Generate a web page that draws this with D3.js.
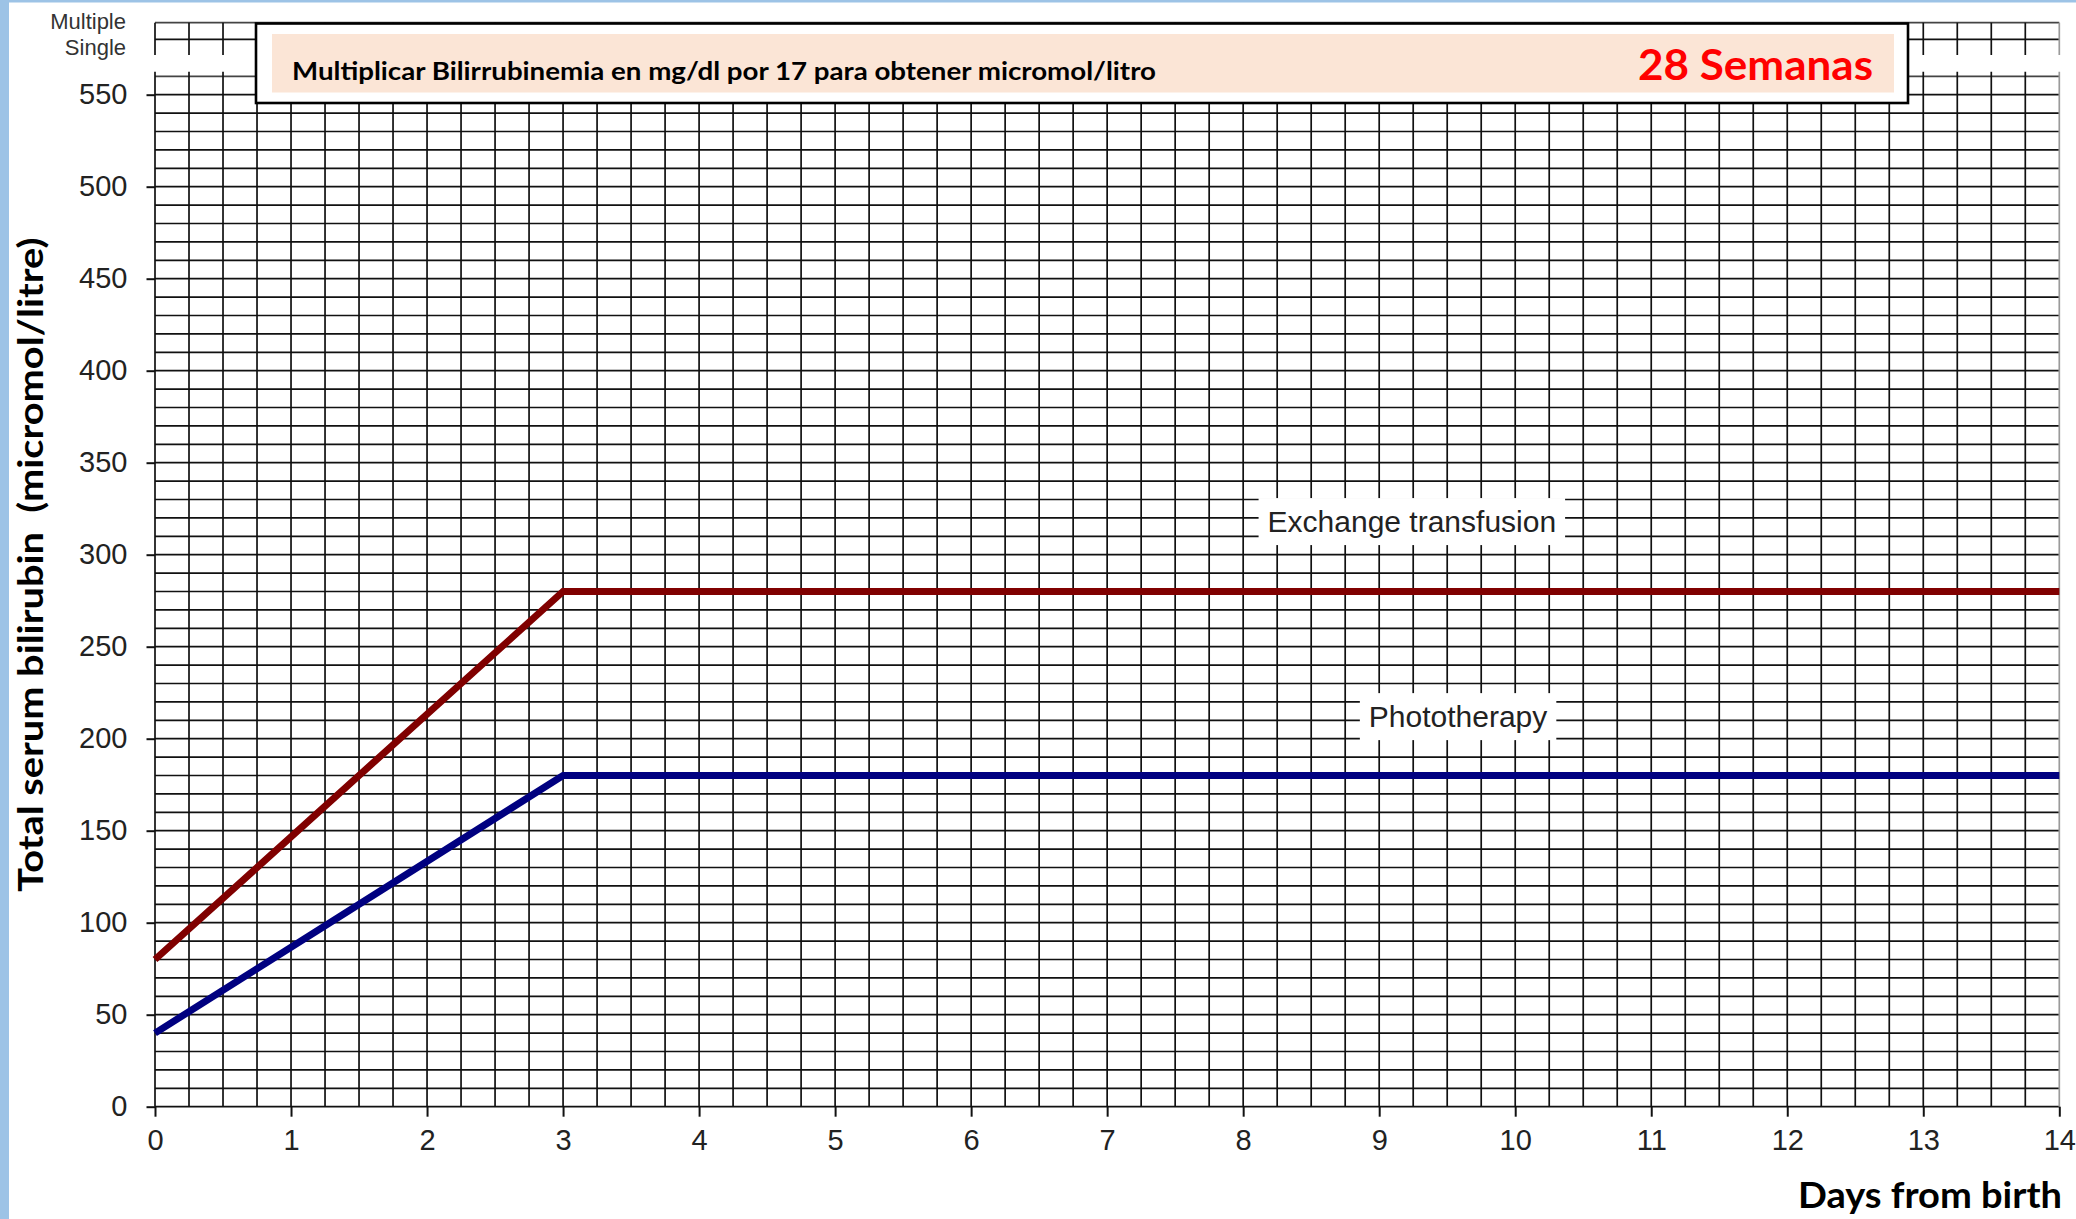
<!DOCTYPE html>
<html>
<head>
<meta charset="utf-8">
<script src="https://cdn.jsdelivr.net/npm/d3@7"></script>
<style>
  html, body { margin: 0; padding: 0; background: #fff; }
  svg { display: block; }
</style>
</head>
<body>
<svg id="chart" width="2076" height="1219"></svg>
<script>
// ---------- data ----------
const xTicks = [0,1,2,3,4,5,6,7,8,9,10,11,12,13,14];
const yTicks = [0,50,100,150,200,250,300,350,400,450,500,550];
const exchangeDays   = [0, 3, 14];
const exchangeValues = [80, 280, 280];
const photoDays      = [0, 3, 14];
const photoValues    = [40, 180, 180];
const lineLabels     = ["Exchange transfusion", "Phototherapy"];
const lineLabelDays  = [9.24, 9.58];
const lineLabelVals  = [318, 212];
const stripLabels    = ["Multiple", "Single"];
const bannerText     = "Multiplicar Bilirrubinemia en mg/dl por 17 para obtener micromol/litro";
const weeksText      = "28 Semanas";
const xTitle         = "Days from birth";
const yTitle         = "Total serum bilirubin  (micromol/litre)";

// ---------- setup ----------
const svg = d3.select("#chart");
const W = 2076, H = 1219;
svg.append("rect").attr("width", W).attr("height", H).attr("fill", "#fff");
// light blue frame (left and top)
svg.append("rect").attr("x", 0).attr("y", 0).attr("width", 9).attr("height", H).attr("fill", "#9DC3E6");
svg.append("rect").attr("x", 0).attr("y", 0).attr("width", W).attr("height", 2.5).attr("fill", "#9DC3E6");

const x = d3.scaleLinear().domain([0, 14]).range([155, 2059.3]);
const y = d3.scaleLinear().domain([0, 560]).range([1106.7, 76.3]);

const gridColor = "#111";
const gw = 1.7;

// ---------- main grid ----------
const grid = svg.append("g");
const hVals = d3.range(0, 561, 10);
grid.selectAll("line.h").data(hVals).join("line")
  .attr("x1", x(0)).attr("x2", x(14))
  .attr("y1", d => y(d)).attr("y2", d => y(d))
  .attr("stroke", d => d === 560 ? "#444" : gridColor).attr("stroke-width", gw);
const vVals = d3.range(0, 14.001, 0.25);
grid.selectAll("line.v").data(vVals).join("line")
  .attr("x1", d => x(d)).attr("x2", d => x(d))
  .attr("y1", y(560) - 4.5).attr("y2", y(0))
  .attr("stroke", d => d === 14 ? "#9a9a9a" : gridColor).attr("stroke-width", gw);

// ---------- top strip (Multiple / Single) ----------
const stripTop = 22.7, stripRow = 16.6, stripBottom = 55;
const strip = svg.append("g");
strip.selectAll("line.sh").data([0, 1]).join("line")
  .attr("x1", x(0)).attr("x2", x(14))
  .attr("y1", d => stripTop + d * stripRow).attr("y2", d => stripTop + d * stripRow)
  .attr("stroke", d => d === 0 ? "#444" : gridColor).attr("stroke-width", gw);
strip.selectAll("line.sv").data(vVals).join("line")
  .attr("x1", d => x(d)).attr("x2", d => x(d))
  .attr("y1", stripTop).attr("y2", stripBottom)
  .attr("stroke", d => d === 14 ? "#9a9a9a" : gridColor).attr("stroke-width", gw);
strip.selectAll("text").data(stripLabels).join("text")
  .attr("x", 126).attr("y", (d, i) => i === 0 ? 28.5 : 55)
  .attr("text-anchor", "end")
  .attr("font-family", "'Liberation Sans', Arial, sans-serif")
  .attr("font-size", 22).attr("fill", "#333")
  .text(d => d);

// ---------- axes ----------
const axisFont = "'Liberation Sans', Arial, sans-serif";
const yAxis = svg.append("g").attr("transform", `translate(${x(0)},0)`)
  .call(d3.axisLeft(y).tickValues(yTicks).tickSize(8.5).tickPadding(19));
const xAxis = svg.append("g").attr("transform", `translate(0,${y(0)})`)
  .call(d3.axisBottom(x).tickValues(xTicks).tickSize(10).tickPadding(13));
[yAxis, xAxis].forEach(g => {
  g.select(".domain").remove();
  g.selectAll(".tick line").attr("stroke", "#111").attr("stroke-width", 2);
  g.selectAll(".tick text").attr("font-family", axisFont).attr("font-size", 29).attr("fill", "#222");
});

// ---------- label boxes (white, break the grid) ----------
const labelG = svg.append("g");
const labels = lineLabels.map((t, i) => ({ t, d: lineLabelDays[i], v: lineLabelVals[i] }));
const texts = labelG.selectAll("text").data(labels).join("text")
  .attr("x", d => x(d.d)).attr("y", d => y(d.v))
  .attr("dy", "0.36em")
  .attr("text-anchor", "middle")
  .attr("font-family", axisFont).attr("font-size", 30).attr("fill", "#222")
  .text(d => d.t);
texts.each(function(d) {
  const bb = this.getBBox();
  labelG.insert("rect", "text")
    .attr("x", bb.x - 9).attr("y", y(d.v) - 23.5)
    .attr("width", bb.width + 18).attr("height", 47)
    .attr("fill", "#fff");
});

// ---------- threshold lines ----------
const line = d3.line().x(d => x(d[0])).y(d => y(d[1]));
const series = [
  { pts: exchangeDays.map((d, i) => [d, exchangeValues[i]]), color: "#800000" },
  { pts: photoDays.map((d, i) => [d, photoValues[i]]), color: "#000080" }
];
svg.append("g").selectAll("path").data(series).join("path")
  .attr("d", d => line(d.pts))
  .attr("fill", "none").attr("stroke", d => d.color)
  .attr("stroke-width", 7).attr("stroke-linejoin", "miter");

// ---------- banner ----------
svg.append("rect").attr("x", 256).attr("y", 23.5).attr("width", 1652).attr("height", 79.5)
  .attr("fill", "#fff").attr("stroke", "#000").attr("stroke-width", 2.6);
svg.append("rect").attr("x", 272).attr("y", 34).attr("width", 1622).attr("height", 58.5)
  .attr("fill", "#FBE5D6");
svg.append("text").attr("x", 292).attr("y", 80)
  .attr("font-family", "Lato, 'Open Sans', sans-serif").attr("font-weight", "bold")
  .attr("font-size", 25).attr("fill", "#000")
  .attr("textLength", 864).attr("lengthAdjust", "spacingAndGlyphs")
  .text(bannerText);
svg.append("text").attr("x", 1638).attr("y", 80)
  .attr("font-family", "Lato, 'Open Sans', sans-serif").attr("font-weight", "bold")
  .attr("font-size", 42).attr("fill", "#FF0000")
  .attr("textLength", 235).attr("lengthAdjust", "spacingAndGlyphs")
  .text(weeksText);

// ---------- axis titles ----------
svg.append("text").attr("x", 1798).attr("y", 1208)
  .attr("font-family", "Lato, 'Open Sans', sans-serif").attr("font-weight", "bold")
  .attr("font-size", 36).attr("fill", "#000")
  .attr("textLength", 264).attr("lengthAdjust", "spacingAndGlyphs")
  .text(xTitle);
svg.append("text").attr("transform", "translate(43,891.7) rotate(-90)")
  .attr("font-family", "Lato, 'Open Sans', sans-serif").attr("font-weight", "bold")
  .attr("font-size", 35).attr("fill", "#000")
  .style("white-space", "pre")
  .attr("textLength", 654).attr("lengthAdjust", "spacingAndGlyphs")
  .text(yTitle);
</script>
</body>
</html>
